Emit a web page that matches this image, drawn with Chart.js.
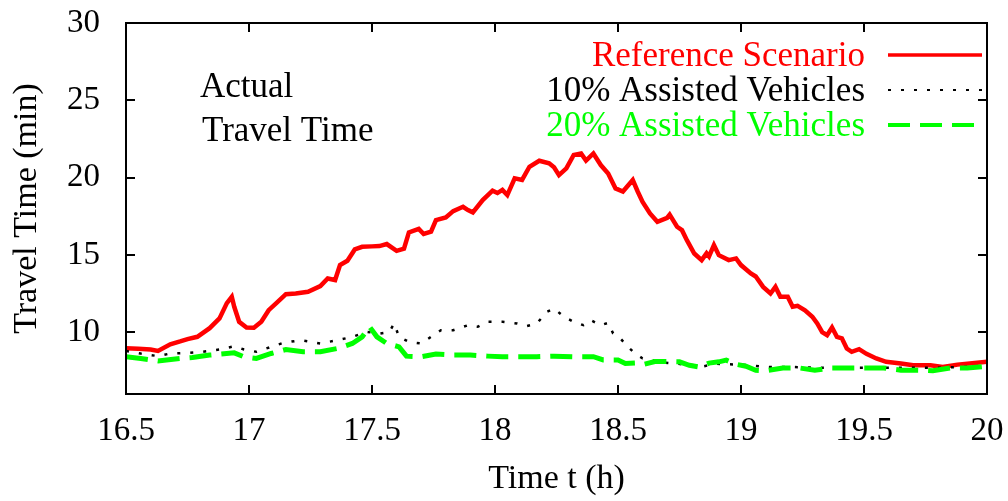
<!DOCTYPE html>
<html>
<head>
<meta charset="utf-8">
<script src="https://cdn.jsdelivr.net/npm/chart.js@4.4.0/dist/chart.umd.min.js"></script>
<style>
    html, body { margin: 0; padding: 0; background: white; }
    #wrap { width: 1008px; height: 501px; }
</style>
</head>
<body>
<div id="wrap"><canvas id="travel-time-plot"></canvas></div>
<script>
const xTicks = [16.5, 17, 17.5, 18, 18.5, 19, 19.5, 20];
const yTicks = [10, 15, 20, 25, 30];
const seriesNames = ["Reference Scenario", "10% Assisted Vehicles", "20% Assisted Vehicles"];

// reference scenario (red)
const refTimes = [16.50, 16.55, 16.60, 16.63, 16.68, 16.72, 16.75, 16.79, 16.84, 16.88, 16.91, 16.93, 16.94, 16.96, 16.99,
    17.02, 17.05, 17.08, 17.11, 17.15, 17.19, 17.24, 17.29, 17.32, 17.35, 17.37, 17.40, 17.43, 17.46, 17.50, 17.53,
    17.56, 17.60, 17.63, 17.65, 17.69, 17.71, 17.74, 17.76, 17.80, 17.83, 17.87, 17.89, 17.91, 17.95, 17.99, 18.01,
    18.03, 18.05, 18.08, 18.11, 18.14, 18.18, 18.22, 18.24, 18.26, 18.29, 18.32, 18.35, 18.37, 18.40, 18.43, 18.46,
    18.49, 18.52, 18.56, 18.58, 18.60, 18.63, 18.66, 18.70, 18.71, 18.74, 18.76, 18.78, 18.81, 18.84, 18.86, 18.87,
    18.89, 18.91, 18.95, 18.98, 19.00, 19.04, 19.06, 19.09, 19.12, 19.14, 19.16, 19.19, 19.21, 19.23, 19.26, 19.29,
    19.31, 19.33, 19.35, 19.37, 19.39, 19.41, 19.43, 19.45, 19.48, 19.51, 19.55, 19.59, 19.65, 19.70, 19.77, 19.82,
    19.88, 19.93, 20.00];
const refValues = [8.96, 8.92, 8.88, 8.79, 9.22, 9.40, 9.55, 9.70, 10.26, 10.89, 11.88, 12.29, 11.64, 10.67, 10.30,
    10.28, 10.67, 11.42, 11.86, 12.46, 12.50, 12.61, 12.98, 13.47, 13.37, 14.34, 14.62, 15.35, 15.52, 15.55, 15.57,
    15.70, 15.26, 15.40, 16.45, 16.68, 16.35, 16.50, 17.25, 17.42, 17.83, 18.11, 17.90, 17.75, 18.55, 19.15, 19.00,
    19.20, 18.87, 19.95, 19.85, 20.70, 21.09, 20.92, 20.66, 20.16, 20.60, 21.46, 21.56, 21.10, 21.56, 20.81, 20.27,
    19.30, 19.10, 19.84, 19.10, 18.43, 17.68, 17.14, 17.40, 17.60, 16.82, 16.60, 15.95, 15.09, 14.66, 15.10, 14.90,
    15.63, 14.98, 14.66, 14.77, 14.34, 13.80, 13.60, 12.93, 12.50, 12.93, 12.29, 12.29, 11.64, 11.70, 11.42, 11.00,
    10.56, 10.00, 9.80, 10.30, 9.70, 9.60, 8.94, 8.73, 8.90, 8.60, 8.30, 8.08, 7.97, 7.86, 7.86, 7.75,
    7.90, 7.97, 8.08];

// 10% assisted (black dotted)
const tenTimes = [16.50, 16.56, 16.63, 16.68, 16.75, 16.81, 16.88, 16.94, 16.98, 17.03, 17.09, 17.14, 17.21, 17.29,
    17.36, 17.42, 17.48, 17.53, 17.57, 17.59, 17.61, 17.65, 17.70, 17.74, 17.78, 17.83, 17.89, 17.93, 17.97, 18.03,
    18.09, 18.13, 18.17, 18.21, 18.24, 18.28, 18.32, 18.36, 18.39, 18.43, 18.46, 18.48, 18.51, 18.54, 18.57, 18.60,
    18.68, 18.78, 18.85, 18.90, 19.00, 19.10, 19.20, 19.30, 19.40, 19.50, 19.60, 19.70, 19.80, 19.90, 20.00];
const tenValues = [8.79, 8.62, 8.45, 8.62, 8.66, 8.73, 8.88, 9.09, 8.88, 8.73, 9.05, 9.31, 9.48, 9.27,
    9.48, 9.70, 10.02, 9.90, 10.00, 10.56, 9.70, 9.37, 9.27, 9.70, 10.13, 10.13, 10.45, 10.35, 10.67, 10.67,
    10.56, 10.40, 10.56, 11.31, 11.53, 11.00, 10.67, 10.45, 10.77, 10.45, 10.60, 9.92, 9.59, 9.05, 8.62, 8.30,
    8.04, 7.90, 7.80, 7.95, 7.90, 7.75, 7.75, 7.70, 7.70, 7.70, 7.70, 7.70, 7.70, 7.75, 7.80];

// 20% assisted (green dashed)
const twentyTimes = [16.50, 16.56, 16.63, 16.72, 16.77, 16.84, 16.94, 16.98, 17.03, 17.09, 17.15, 17.22, 17.29, 17.36,
    17.42, 17.46, 17.49, 17.52, 17.56, 17.61, 17.64, 17.70, 17.76, 17.83, 17.90, 17.97, 18.03, 18.10, 18.17, 18.24,
    18.32, 18.40, 18.44, 18.50, 18.53, 18.57, 18.60, 18.65, 18.70, 18.75, 18.79, 18.83, 18.87, 18.91, 18.94, 18.98,
    19.02, 19.06, 19.10, 19.17, 19.24, 19.30, 19.37, 19.44, 19.51, 19.58, 19.65, 19.72, 19.78, 19.85, 19.92, 20.00];
const twentyValues = [8.41, 8.30, 8.14, 8.30, 8.36, 8.52, 8.66, 8.40, 8.30, 8.62, 8.88, 8.73, 8.73, 8.95,
    9.27, 9.70, 10.35, 9.70, 9.27, 9.05, 8.45, 8.41, 8.58, 8.52, 8.52, 8.45, 8.41, 8.41, 8.41, 8.45,
    8.41, 8.41, 8.20, 8.20, 7.97, 8.00, 7.90, 8.10, 8.10, 8.08, 7.86, 7.75, 8.00, 8.08, 8.19, 7.92,
    7.80, 7.54, 7.50, 7.68, 7.68, 7.54, 7.68, 7.68, 7.68, 7.68, 7.54, 7.54, 7.50, 7.68, 7.68, 7.80];

const toPoints = (ts, vs) => ts.map((t, i) => ({ x: t, y: vs[i] }));

const serif = '"Liberation Serif", "Times New Roman", serif';
Chart.defaults.font.family = serif;
Chart.defaults.color = "black";

// gnuplot-ish frame with inward ticks on all four sides
const frameTicks = {
    id: "frameTicks",
    afterDatasetsDraw(chart) {
        const { ctx, chartArea: a, scales } = chart;
        ctx.save();
        ctx.strokeStyle = "black";
        ctx.lineWidth = 2;
        ctx.beginPath();
        xTicks.forEach((v) => {
            const x = Math.round(scales.x.getPixelForValue(v));
            ctx.moveTo(x, a.bottom);
            ctx.lineTo(x, a.bottom - 9);
            ctx.moveTo(x, a.top);
            ctx.lineTo(x, a.top + 9);
        });
        yTicks.forEach((v) => {
            const y = Math.round(scales.y.getPixelForValue(v));
            ctx.moveTo(a.left, y);
            ctx.lineTo(a.left + 9, y);
            ctx.moveTo(a.right, y);
            ctx.lineTo(a.right - 9, y);
        });
        ctx.stroke();
        ctx.strokeRect(a.left, a.top, a.right - a.left, a.bottom - a.top);
        ctx.restore();
    },
};

// key in the top right and the "Actual Travel Time" note
const keyAndNote = {
    id: "keyAndNote",
    afterDraw(chart) {
        const { ctx, chartArea: a } = chart;
        const ds = chart.data.datasets;
        ctx.save();
        ctx.font = `35px ${serif}`;
        ctx.textBaseline = "alphabetic";
        ctx.textAlign = "right";
        [32, 67, 102].forEach((dy, i) => {
            const y = a.top + dy;
            ctx.fillStyle = ds[i].borderColor;
            ctx.fillText(seriesNames[i], a.right - 122, y + 11);
            ctx.strokeStyle = ds[i].borderColor;
            ctx.lineWidth = ds[i].legendWidth;
            ctx.setLineDash(ds[i].borderDash);
            ctx.beginPath();
            ctx.moveTo(a.right - 99, y);
            ctx.lineTo(a.right - 5, y);
            ctx.stroke();
        });
        ctx.setLineDash([]);
        ctx.fillStyle = "black";
        ctx.textAlign = "left";
        ctx.fillText("Actual", a.left + 74, a.top + 74);
        ctx.fillText("Travel Time", a.left + 76, a.top + 118);
        ctx.restore();
    },
};

const ctx = document.getElementById("travel-time-plot").getContext("2d");
const travelChart = new Chart(ctx, {
    type: "line",
    data: {
        datasets: [{
            label: seriesNames[0],
            data: toPoints(refTimes, refValues),
            borderColor: "#ff0000",
            borderWidth: 4.5,
            borderDash: [],
            legendWidth: 3.5,
            order: 2,
        }, {
            label: seriesNames[1],
            data: toPoints(tenTimes, tenValues),
            borderColor: "#000000",
            borderWidth: 2.5,
            borderDash: [3, 10],
            legendWidth: 2,
            order: 1,
        }, {
            label: seriesNames[2],
            data: toPoints(twentyTimes, twentyValues),
            borderColor: "#00ff00",
            borderWidth: 5,
            borderDash: [22, 10],
            legendWidth: 4,
            order: 0,
        }]
    },
    options: {
        responsive: true,
        maintainAspectRatio: false,
        animation: false,
        elements: {
            point: { radius: 0 },
            line: { tension: 0, fill: false },
        },
        layout: {
            padding: {
                top: 23,
                right: 21,
                left: 0,
                bottom: 0,
            }
        },
        scales: {
            x: {
                type: "linear",
                min: 16.5,
                max: 20,
                afterBuildTicks: (scale) => { scale.ticks = xTicks.map((v) => ({ value: v })); },
                afterFit: (scale) => {
                    scale.height = 107;
                    scale.paddingLeft = 0;
                    scale.paddingRight = 0;
                },
                grid: { display: false, drawTicks: false },
                border: { display: false },
                ticks: {
                    padding: 18,
                    maxRotation: 0,
                    font: { size: 33 },
                    callback: (v) => String(v),
                },
                title: {
                    display: true,
                    text: "Time t (h)",
                    font: { size: 34 },
                    padding: { top: 0, bottom: 2 },
                },
            },
            y: {
                type: "linear",
                min: 6,
                max: 30,
                afterBuildTicks: (scale) => { scale.ticks = yTicks.map((v) => ({ value: v })); },
                afterFit: (scale) => {
                    scale.width = 126;
                    scale.paddingTop = 0;
                    scale.paddingBottom = 0;
                },
                grid: { display: false, drawTicks: false },
                border: { display: false },
                ticks: {
                    padding: 26,
                    font: { size: 33 },
                    callback: (v) => String(v),
                },
                title: {
                    display: true,
                    text: "Travel Time (min)",
                    font: { size: 34 },
                    padding: { top: 7, bottom: 0 },
                },
            }
        },
        plugins: {
            legend: { display: false },
            tooltip: { enabled: false },
        },
    },
    plugins: [frameTicks, keyAndNote],
});
</script>
</body>
</html>
